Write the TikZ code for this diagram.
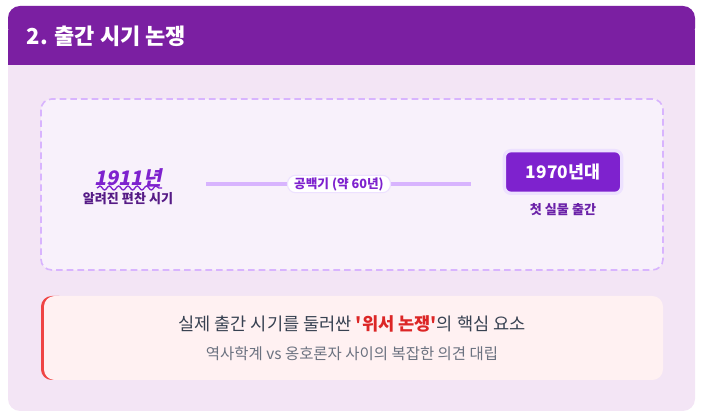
\documentclass[tikz,border=0pt]{standalone}
\usepackage{fontspec}
\setmainfont{Noto Sans CJK KR}
\newfontfamily\krplain{Noto Sans CJK KR}
\newfontfamily\slantfont[FakeSlant=0.2]{Noto Sans CJK KR}
\usetikzlibrary{positioning,decorations.pathmorphing}
\definecolor{headpurple}{HTML}{7B1FA2}
\definecolor{bodylav}{HTML}{F3E5F5}
\definecolor{dashlav}{HTML}{D8B4FE}
\definecolor{innerlav}{HTML}{F8F1FB}
\definecolor{deeppurple}{HTML}{7E22CE}
\definecolor{textpurple}{HTML}{6B21A8}
\definecolor{glowlav}{HTML}{EDE1FF}
\definecolor{notepink}{HTML}{FFF1F2}
\definecolor{notered}{HTML}{EF4444}
\definecolor{keyred}{HTML}{DC2626}
\definecolor{darktext}{HTML}{374151}
\definecolor{greytext}{HTML}{6B7280}
\tikzset{
    %small captions under the years
    caption/.style={
      text=textpurple,
      font=\fontsize{9.8}{11}\selectfont\bfseries,
      inner sep=1pt},
    yearbox/.style={
      rectangle,
      rounded corners=5pt,
      fill=deeppurple, draw=glowlav, line width=2.5pt,
      text=white,
      font=\fontsize{13}{15}\selectfont\bfseries,
      minimum width=88pt, minimum height=32pt},
    pill/.style={
      rectangle,
      rounded corners=6pt,
      fill=white, draw=glowlav, line width=0.8pt,
      text=deeppurple,
      font=\fontsize{9.5}{11}\selectfont\bfseries,
      minimum height=13pt, inner xsep=5pt, inner ysep=1pt},
    gapline/.style={
      draw=dashlav, line width=3pt}
}
\begin{document}
\begin{tikzpicture}[x=0.75pt,y=-0.75pt]
\useasboundingbox (0,0) rectangle (701,420);
% card
\fill[bodylav,rounded corners=9pt] (8,6) rectangle (695,411);
\fill[headpurple,rounded corners=9pt] (8,6) rectangle (695,40);
\fill[headpurple] (8,30) rectangle (695,65);
\node[anchor=west,text=white,font=\fontsize{16.5}{19}\selectfont\bfseries] (title) at (22,36) {2. 출간 시기 논쟁};
% timeline area
\draw[dashlav,fill=innerlav,line width=1.2pt,dash pattern=on 5pt off 3pt,rounded corners=8pt] (41,99) rectangle (663,270);
\node[text=deeppurple,font=\fontsize{15}{17}\selectfont\bfseries\slantfont,inner sep=1pt] (early) at (128,178) {1911년};
\draw[deeppurple,line width=1pt,decoration={snake,amplitude=1.5pt,segment length=7pt},decorate] (97,188) -- (162,188);
\node[caption,text=textpurple!80!black] (earlycap) at (128,199) {알려진 편찬 시기};
\node[yearbox] (late) at (563,172) {1970년대};
\node[caption,below=5pt of late] (latecap) {첫 실물 출간};
\coordinate (gapstart) at (206,184);
\coordinate (gapend) at (471,184);
\draw[gapline] (gapstart) -- (gapend);
\node[pill] (gap) at (339,184) {공백기 (약 60년)};
% note
\fill[notered,rounded corners=8pt] (41,296) rectangle (70,380);
\fill[notepink,rounded corners=8pt] (44,296) rectangle (663,380);
\node[text=darktext,font=\fontsize{13.2}{15}\selectfont\krplain] (note) at (352,324) {실제 출간 시기를 둘러싼 \textcolor{keyred}{\bfseries '위서 논쟁'}의 핵심 요소};
\node[text=greytext,font=\fontsize{11.6}{13}\selectfont] (notesub) at (352,354) {역사학계 vs 옹호론자 사이의 복잡한 의견 대립};
\end{tikzpicture}
\end{document}
